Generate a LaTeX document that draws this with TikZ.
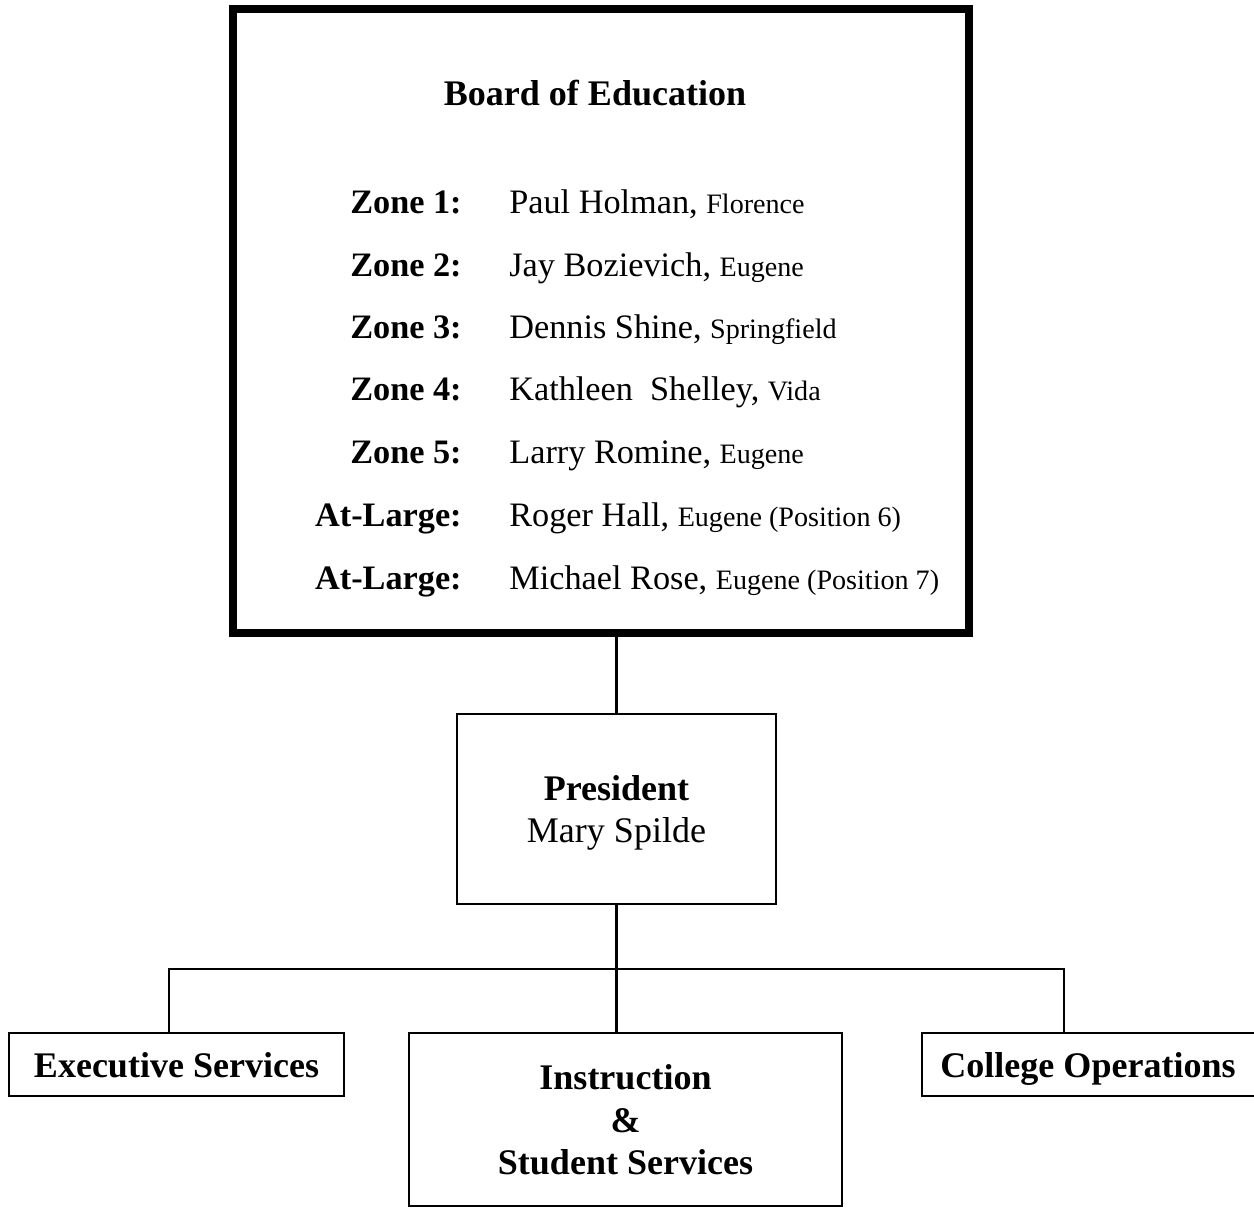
\documentclass[tikz,border=0pt]{standalone}
\usepackage{fontspec}
\setmainfont{Liberation Serif}
\usetikzlibrary{positioning}

\newcommand{\town}[1]{{\fontsize{16}{19}\selectfont #1}}

\begin{document}
\begin{tikzpicture}[
  x=0.02cm, y=-0.02cm,
  boardbox/.style={draw, rectangle, line width=4.5pt, inner sep=0pt},
  box/.style={draw, rectangle, line width=1.5pt, inner sep=0pt, align=center,
    font=\bfseries\fontsize{20.5}{24.4}\selectfont},
  boardtitle/.style={anchor=base, inner sep=0pt, font=\bfseries\fontsize{20.5}{24}\selectfont},
  zonelabel/.style={anchor=base east, inner sep=0pt, font=\bfseries\fontsize{19.5}{23}\selectfont},
  member/.style={anchor=base west, inner sep=0pt, font=\fontsize{19.5}{23}\selectfont},
  link/.style={draw, line width=1.5pt}
]
\useasboundingbox (0,0) rectangle (1254,1208);

\node[boardbox, minimum width=14.72cm, minimum height=12.48cm] (board) at (601,321) {};
\node[boardtitle] (title) at (595,105) {Board of Education};

\node[zonelabel] (z1) at (462,213) {Zone 1:};
\node[member] (m1) at (509,213) {Paul Holman, \town{Florence}};
\node[zonelabel] (z2) at (462,276) {Zone 2:};
\node[member] (m2) at (509,276) {Jay Bozievich, \town{Eugene}};
\node[zonelabel] (z3) at (462,338) {Zone 3:};
\node[member] (m3) at (509,338) {Dennis Shine, \town{Springfield}};
\node[zonelabel] (z4) at (462,400) {Zone 4:};
\node[member] (m4) at (509,400) {Kathleen~ Shelley, \town{Vida}};
\node[zonelabel] (z5) at (462,463) {Zone 5:};
\node[member] (m5) at (509,463) {Larry Romine, \town{Eugene}};
\node[zonelabel] (z6) at (462,526) {At-Large:};
\node[member] (m6) at (509,526) {Roger Hall, \town{Eugene (Position 6)}};
\node[zonelabel] (z7) at (462,589) {At-Large:};
\node[member] (m7) at (509,589) {Michael Rose, \town{Eugene (Position 7)}};

\node[box, text depth=0pt, minimum width=6.38cm, minimum height=3.8cm] (pres) at (616.5,809)
  {President\\{\mdseries Mary Spilde}};

\node[box, text depth=0pt, minimum width=6.7cm, minimum height=1.26cm] (exec) at (176.5,1064.5) {Executive Services};
\node[box, text depth=0pt, minimum width=8.66cm, minimum height=3.46cm] (instr) at (625.5,1119.5) {Instruction\\\&\\Student Services};
\node[box, text depth=0pt, minimum width=6.8cm, minimum height=1.26cm] (colops) at (1092,1064.5) {\hspace*{-0.16cm}College Operations};

\coordinate (busL) at (169,969);
\coordinate (busR) at (1064,969);

\draw[link] (board.south -| pres.north) -- (pres.north);
\draw[link] (pres.south) -- (instr.north -| pres.south);
\draw[link] (exec.north -| busL) -- (busL) -- (busR) -- (colops.north -| busR);

\end{tikzpicture}
\end{document}
